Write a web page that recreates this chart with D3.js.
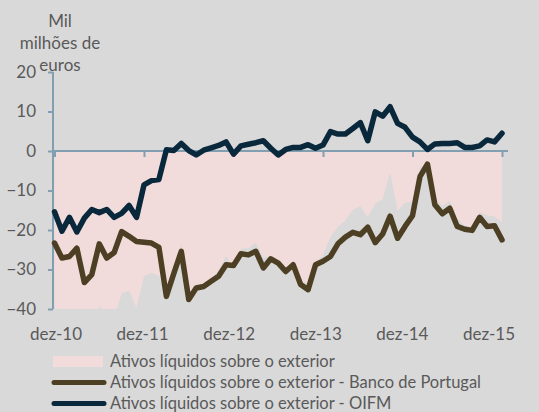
<!DOCTYPE html>
<html>
<head>
<meta charset="utf-8">
<script src="https://cdn.jsdelivr.net/npm/d3@7"></script>
<style>
  html, body { margin: 0; padding: 0; background: #d9d9d9; }
  svg { display: block; }
  text { font-family: Lato, "Open Sans", "Liberation Sans", sans-serif; fill: #595959; }
</style>
</head>
<body>
<svg id="chart" width="539" height="412"></svg>
<script>
// ---- data (monthly, dez-10 .. dez-15) ----
const yearLabels = ["dez-10", "dez-11", "dez-12", "dez-13", "dez-14", "dez-15"];
const yTicks = [20, 10, 0, -10, -20, -30, -40];
const unitLines = ["Mil", "milhões de", "euros"];
const seriesNames = [
  "Ativos líquidos sobre o exterior",
  "Ativos líquidos sobre o exterior - Banco de Portugal",
  "Ativos líquidos sobre o exterior - OIFM"
];

const totalAssets = [
  -39.2, -47.4, -43.5, -45.1, -50.3, -46.1, -39.1, -41.9, -42.5, -36.0,
  -35.3, -39.7, -31.7, -30.8, -31.6, -36.5, -30.9, -23.5, -37.5, -35.7,
  -34.1, -32.2, -30.3, -26.5, -29.8, -24.7, -24.6, -23.3, -27.0, -26.6,
  -29.4, -30.1, -27.9, -32.9, -33.5, -28.1, -26.4, -21.8, -19.2, -17.5,
  -14.9, -14.0, -16.7, -13.3, -12.2, -5.4, -15.1, -13.1, -12.9, -4.2,
  -2.9, -11.8, -14.0, -12.6, -17.0, -18.9, -19.2, -15.5, -16.3, -16.6,
  -18.0
];
const bancoPortugal = [
  -23.3, -27.1, -26.7, -24.6, -33.3, -31.3, -23.5, -27.1, -25.7, -20.4,
  -21.6, -22.9, -23.1, -23.3, -24.4, -36.8, -31.0, -25.4, -37.6, -34.7,
  -34.3, -33.0, -31.7, -28.8, -29.0, -26.0, -26.3, -25.4, -29.6, -27.3,
  -28.4, -30.5, -28.8, -33.8, -35.1, -28.8, -27.9, -26.7, -23.5, -21.8,
  -20.6, -21.2, -19.3, -23.2, -21.0, -16.5, -22.1, -19.1, -16.4, -6.5,
  -3.3, -13.6, -15.9, -14.5, -19.1, -19.8, -20.1, -16.8, -19.1, -18.9,
  -22.5
];
const oifm = [
  -15.4, -20.3, -16.8, -20.5, -17.0, -14.8, -15.6, -14.8, -16.8, -15.8,
  -13.8, -16.8, -8.6, -7.5, -7.2, 0.3, 0.1, 1.9, 0.1, -1.0,
  0.2, 0.8, 1.4, 2.3, -0.8, 1.3, 1.7, 2.1, 2.6, 0.7,
  -1.0, 0.4, 0.9, 0.9, 1.6, 0.7, 1.5, 4.9, 4.3, 4.3,
  5.7, 7.2, 2.6, 9.9, 8.8, 11.2, 7.0, 6.0, 3.5, 2.3,
  0.4, 1.8, 1.9, 1.9, 2.1, 0.9, 0.9, 1.3, 2.8, 2.3,
  4.5
];

// ---- styles ----
const colArea = "#f2dcdb";
const colBdP = "#4d3f23";
const colOIFM = "#0a283b";
const colAxis = "#819fb0";

const svg = d3.select("#chart");
const n = oifm.length;

const x = d3.scaleLinear().domain([0, n - 1]).range([54.5, 502]);
const y = d3.scaleLinear().domain([-40, 20]).range([309, 72]);
const xLab = d3.scaleLinear().domain([0, yearLabels.length - 1]).range([56, 489]);

// clip to plot area
svg.append("defs").append("clipPath").attr("id", "plotclip")
  .append("rect").attr("x", x(0) - 2).attr("y", y(20)).attr("width", x(n - 1) - x(0) + 6).attr("height", y(-40) - y(20));

const idx = d3.range(n);

// area
const area = d3.area()
  .x(i => x(i))
  .y0(y(0))
  .y1(i => y(totalAssets[i]));
svg.append("path")
  .datum(idx)
  .attr("clip-path", "url(#plotclip)")
  .attr("fill", colArea)
  .attr("d", area);

// y axis
const yAxis = d3.axisLeft(y).tickValues(yTicks).tickSize(5).tickPadding(12).tickFormat(d3.format("d"));
const gy = svg.append("g").attr("transform", `translate(${x(0) - 1.5},0)`).call(yAxis);
gy.select(".domain").attr("stroke", colAxis).attr("stroke-width", 2).attr("d", `M0,${y(20)}V${y(-40)}`);
gy.selectAll(".tick line").attr("stroke", colAxis).attr("stroke-width", 2);
gy.selectAll(".tick text").style("font-size", "17px").attr("fill", "#595959");

// x axis at zero
const xTickIdx = d3.range(0, n, 12);
const xAxis = d3.axisBottom(x).tickValues(xTickIdx).tickSize(6).tickFormat("");
const gx = svg.append("g").attr("transform", `translate(0,${y(0)})`).call(xAxis);
gx.select(".domain").attr("stroke", colAxis).attr("stroke-width", 2).attr("d", `M${x(0) - 2},0H${x(n - 1) + 6}`);
gx.selectAll(".tick line").attr("stroke", colAxis).attr("stroke-width", 2);

// x labels
svg.append("g").selectAll("text").data(yearLabels).join("text")
  .attr("x", (d, i) => xLab(i))
  .attr("y", 340)
  .attr("text-anchor", "middle")
  .style("font-size", "17px")
  .text(d => d);

// lines
const line = arr => d3.line().x(i => x(i)).y(i => y(arr[i]));
svg.append("path").datum(idx)
  .attr("fill", "none").attr("stroke", colBdP).attr("stroke-width", 5.5)
  .attr("stroke-linejoin", "round").attr("stroke-linecap", "round")
  .attr("d", line(bancoPortugal));
svg.append("path").datum(idx)
  .attr("fill", "none").attr("stroke", colOIFM).attr("stroke-width", 5.5)
  .attr("stroke-linejoin", "round").attr("stroke-linecap", "round")
  .attr("d", line(oifm));

// unit title
svg.append("g").selectAll("text").data(unitLines).join("text")
  .attr("x", 60)
  .attr("y", (d, i) => 27 + i * 22)
  .attr("text-anchor", "middle")
  .style("font-size", "17px")
  .text(d => d);

// legend
const leg = svg.append("g");
const rowY = i => 361.5 + i * 21;
leg.append("rect").attr("x", 53).attr("y", rowY(0) - 5.5).attr("width", 50).attr("height", 11).attr("fill", colArea);
[colBdP, colOIFM].forEach((c, k) => {
  leg.append("line").attr("x1", 54).attr("x2", 104).attr("y1", rowY(k + 1)).attr("y2", rowY(k + 1))
    .attr("stroke", c).attr("stroke-width", 5).attr("stroke-linecap", "round");
});
leg.selectAll("text").data(seriesNames).join("text")
  .attr("x", 110)
  .attr("y", (d, i) => rowY(i) + 5.5)
  .style("font-size", "16.5px")
  .text(d => d);
</script>
</body>
</html>
